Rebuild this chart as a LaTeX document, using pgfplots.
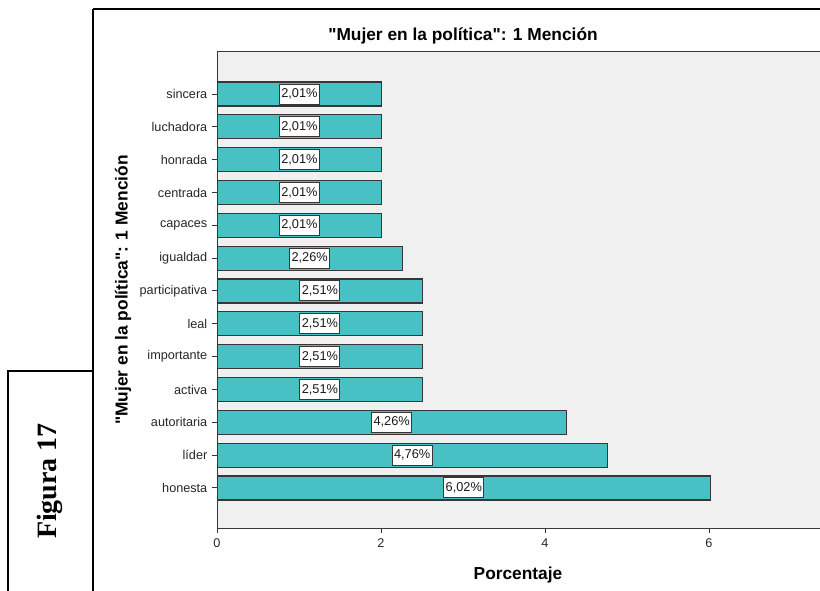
\documentclass[border=0pt]{standalone}
\usepackage{fontspec}
\setmainfont{Liberation Sans}[Ligatures=TeXOff]
\newfontfamily\figfont{Liberation Serif}
\usepackage{pgfplots}
\pgfplotsset{compat=1.18}
\definecolor{barteal}{RGB}{72,193,196}
\definecolor{plotbg}{RGB}{240,240,240}
\definecolor{edgegray}{RGB}{55,55,55}

\begin{document}
\begin{tikzpicture}
\useasboundingbox (0,0) rectangle (615pt,-442.5pt);
\clip (0,0) rectangle (615pt,-442.5pt);
% frame and texts, in pixels of the reference (y down)
\begin{scope}[x=0.75pt,y=-0.75pt]
\draw[line width=1.9pt] (93,9) -- (825,9);
\draw[line width=1.7pt] (93,9) -- (93,595);
\draw[line width=1.1pt] (94,371) -- (8,371) -- (8,595);
\node[rotate=90,font=\figfont\bfseries\fontsize{21}{24}\selectfont] at (50,481) {Figura 17};
\node[font=\bfseries\fontsize{13}{15}\selectfont] at (463,36) {"Mujer en la política": 1 Mención};
\node[font=\bfseries\fontsize{13}{15}\selectfont] at (518,575) {Porcentaje};
\node[rotate=90,font=\bfseries\fontsize{13}{15}\selectfont] at (123,290) {"Mujer en la política": 1 Mención};
\end{scope}
\begin{axis}[
    at={(162.75pt,-396pt)}, anchor=south west,
    scale only axis, width=461.25pt, height=357.75pt,
    xmin=0, xmax=7.5, ymin=-1.22, ymax=13.31,
    xbar, bar width=18pt,
    axis background/.style={fill=plotbg},
    axis line style={draw=edgegray, line width=0.75pt},
    xtick={0,2,4,6}, ytick={0,...,12},
    yticklabels={honesta,líder,autoritaria,activa,importante,leal,participativa,igualdad,capaces,centrada,honrada,luchadora,sincera},
    xtick pos=lower, ytick pos=left, tick align=outside,
    major tick length=3.75pt,
    tick style={draw=edgegray, line width=0.75pt},
    ticklabel style={text=black!85, font=\fontsize{9.5}{11}\selectfont},
    /pgf/number format/assume math mode=true,
    xticklabel style={yshift=-1pt},
    point meta=x,
    visualization depends on={rawx \as \rawx},
    nodes near coords={\pgfmathprintnumber[fixed,fixed zerofill,precision=2,use comma]{\pgfplotspointmeta}\%},
    every node near coord/.append style={anchor=center, xshift=-30.75pt*\rawx,
        fill=white, draw=edgegray, line width=0.75pt, text=black!90,
        font=\fontsize{9.6}{11}\selectfont, inner xsep=1.4pt, inner ysep=0pt, minimum height=15pt},
]
\addplot[fill=barteal, draw=edgegray, line width=0.9pt] coordinates {
(6.02,0) (4.76,1) (4.26,2) (2.51,3) (2.51,4) (2.51,5) (2.51,6)
(2.26,7) (2.01,8) (2.01,9) (2.01,10) (2.01,11) (2.01,12)};
\end{axis}
\end{tikzpicture}
\end{document}
